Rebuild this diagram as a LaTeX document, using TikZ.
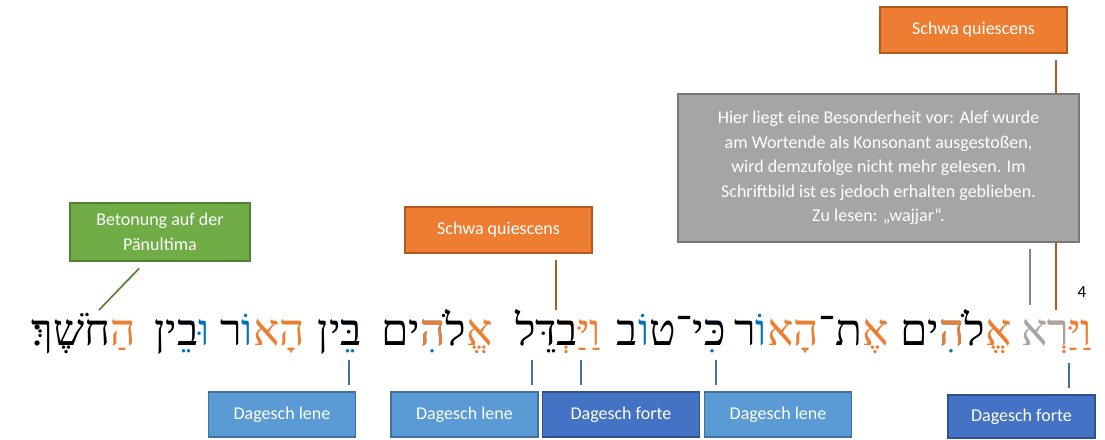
\documentclass[tikz,border=0pt]{standalone}
\usepackage{fontspec}
\setmainfont{Carlito}
\newfontfamily\hebr[Script=Hebrew]{Liberation Serif}
\usetikzlibrary{calc}

\definecolor{horange}{HTML}{ED7D31}
\definecolor{hblue}{HTML}{0070C0}
\definecolor{hgray}{HTML}{A5A5A5}
\definecolor{lenefill}{HTML}{5B9BD5}
\definecolor{lenedraw}{HTML}{41719C}
\definecolor{fortefill}{HTML}{4472C4}
\definecolor{fortedraw}{HTML}{2F528F}
\definecolor{schwafill}{HTML}{ED7D31}
\definecolor{schwadraw}{HTML}{AE5A21}
\definecolor{stressfill}{HTML}{70AD47}
\definecolor{stressdraw}{HTML}{507E32}
\definecolor{notefill}{HTML}{A5A5A5}
\definecolor{notedraw}{HTML}{787878}

% Hebrew is set chunk by chunk, left to right as it is seen
\newcommand\oc[1]{{\color{horange}#1}}
\newcommand\bc[1]{{\color{hblue}#1}}
\newcommand\gc[1]{{\color{hgray}#1}}
\newcommand\mk[4]{\rlap{\color{#2}#3#4}{\color{#1}#3}}

\begin{document}
\begin{tikzpicture}[x=1pt,y=-1pt,
    heb/.style={inner sep=0pt,anchor=base east,font=\hebr\fontsize{44}{50}\selectfont},
    lbl/.style={draw,line width=1.6pt,text=white,align=center,inner sep=0pt,
      font=\fontsize{18}{24.5}\selectfont},
    lenebox/.style={lbl,fill=lenefill,draw=lenedraw,minimum width=147pt,minimum height=45pt},
    fortebox/.style={lbl,fill=fortefill,draw=fortedraw,minimum width=157pt,minimum height=45pt},
    schwabox/.style={lbl,fill=schwafill,draw=schwadraw,minimum width=187pt,minimum height=46pt},
    bpin/.style={draw=lenedraw,line width=1.6pt},
    opin/.style={draw=schwadraw,line width=1.6pt},
    gpin/.style={draw=stressdraw,line width=1.6pt},
    npin/.style={draw=notedraw!90,line width=1.6pt}]

	\useasboundingbox (0,0) rectangle (1105,439);

	\node[heb] (w1) at (1092,345) {\gc{א}\mk{hgray}{horange}{ר}{ְ}\oc{וַיַּ}};
	\node[heb] (w2) at (1012,345) {ים\mk{horange}{hblue}{ה}{ִ}לֹ\oc{אֱ}};
	\node[heb] (w3) at (889,345) {ר\bc{וֹ}\oc{הָא}ת־\oc{אֶ}};
	\node[heb] (w4) at (726,345) {ב\bc{וֹ}י־ט\mk{black}{hblue}{כּ}{ִ}};
	\node[heb] (w5) at (601,345) {דֵּל\mk{black}{horange}{ב}{ְ}\oc{וַיַּ}};
	\node[heb] (w6) at (493,345) {ים\mk{horange}{hblue}{ה}{ִ}לֹ\oc{אֱ}};
	\node[heb] (w7) at (362,345) {ין\mk{black}{hblue}{בּ}{ֵ}};
	\node[heb] (w8) at (305,345) {ר\bc{וֹ}\oc{הָא}};
	\node[heb] (w9) at (210,345) {ין\mk{black}{hblue}{ב}{ֵ}\bc{וּ}};
	\node[heb] (w10) at (136,345) {חֹשֶׁךְ׃\oc{הַ}};
	\node[font=\fontsize{17}{17}\selectfont,inner sep=0pt] (vn) at (1082,292) {4};

	\coordinate (dg1) at (349,360); \coordinate (dg2) at (532,360);
	\coordinate (dg3) at (581,360); \coordinate (dg4) at (716,360);
	\coordinate (dg5) at (1069,363); \coordinate (sw1) at (556,310);
	\coordinate (sw2) at (1056,310); \coordinate (alef) at (1030,305);
	\coordinate (acc) at (99,310);

	\node[lenebox] (dl1) at (282,414.5) {Dagesch lene};
	\node[lenebox] (dl2) at (464.5,414.5) {Dagesch lene};
	\node[fortebox] (df1) at (621,414.5) {Dagesch forte};
	\node[lenebox] (dl3) at (778,414.5) {Dagesch lene};
	\node[fortebox,minimum width=147pt,minimum height=43pt] (df2) at (1021.5,416.5) {Dagesch forte};
	\node[schwabox] (sq1) at (498.5,230) {Schwa quiescens};
	\node[schwabox] (sq2) at (973.5,30) {Schwa quiescens};
	\node[lbl,fill=stressfill,draw=stressdraw,minimum width=180pt,minimum height=58pt]
	  (pen) at (160,232) {Betonung auf der\\Pänultima};

	\draw[bpin,shorten >=6pt] (dg1) -- (dg1 |- dl1.north);
	\draw[bpin,shorten >=6pt] (dg2) -- (dg2 |- dl2.north);
	\draw[bpin,shorten >=6pt] (dg3) -- (dg3 |- df1.north);
	\draw[bpin,shorten >=6pt] (dg4) -- (dg4 |- dl3.north);
	\draw[bpin,shorten >=6pt] (dg5) -- (dg5 |- df2.north);
	\draw[opin,shorten <=6pt] (sw1 |- sq1.south) -- (sw1);
	\draw[opin,shorten <=6pt] (sw2 |- sq2.south) -- (sw2);
	\draw[gpin,shorten >=9pt] (acc) -- ([xshift=-14.5pt]pen.south);

	\node[lbl,fill=notefill,draw=notedraw,minimum width=401pt,minimum height=148pt]
	  (note) at (878.5,168) {Hier liegt eine Besonderheit vor: Alef wurde\\am Wortende als
	  Konsonant ausgestoßen,\\wird demzufolge nicht mehr gelesen. Im\\Schriftbild ist es
	  jedoch erhalten geblieben.\\Zu lesen: „wajjar“.};
	\draw[npin,shorten <=6pt] (alef |- note.south) -- (alef);
\end{tikzpicture}
\end{document}
